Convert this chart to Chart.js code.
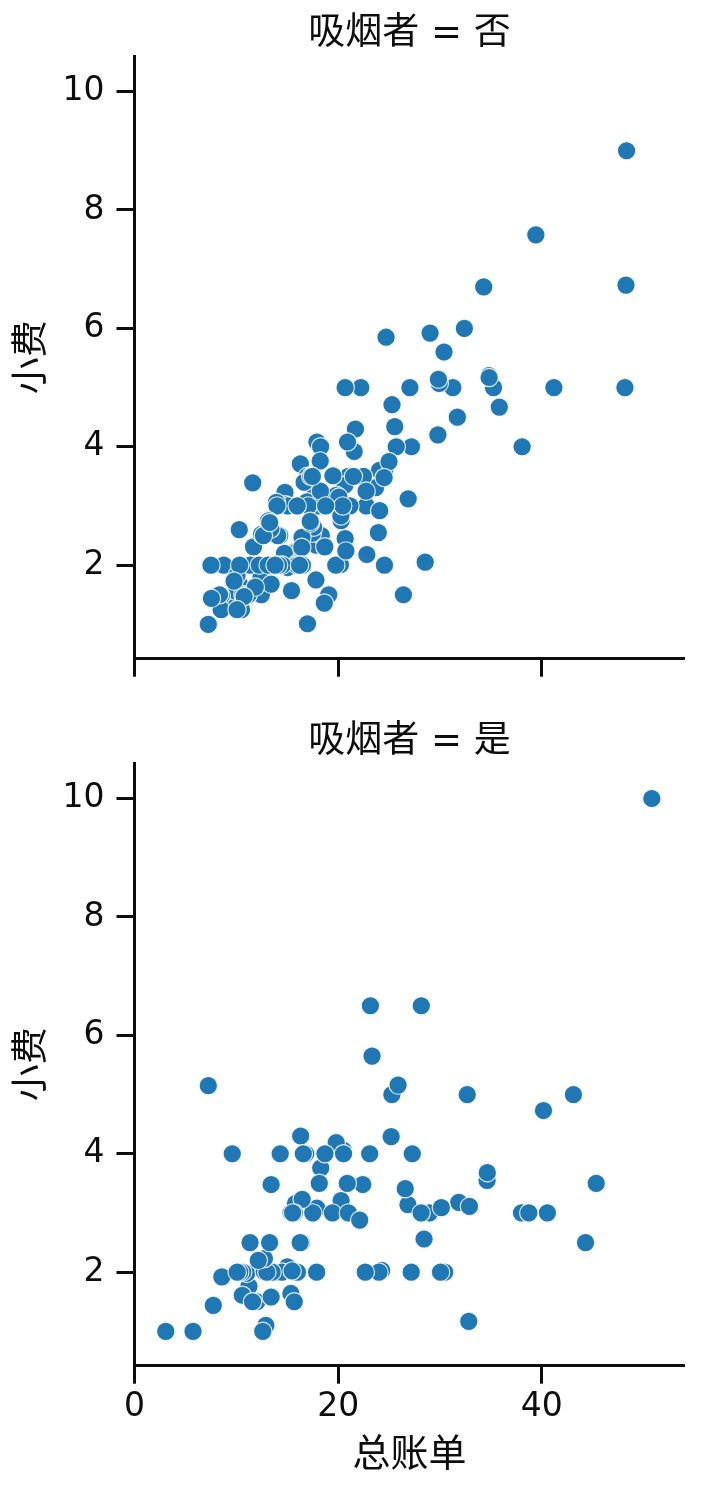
<!DOCTYPE html>
<html>
<head>
<meta charset="utf-8">
<script src="https://cdn.jsdelivr.net/npm/chart.js@4.4.1/dist/chart.umd.min.js"></script>
<style>
  html, body { margin: 0; padding: 0; background: #fff; }
  canvas { position: absolute; left: 0; }
  #noChart { top: 0; }
  #yesChart { top: 700px; }
</style>
</head>
<body>
<canvas id="noChart" width="717" height="700"></canvas>
<canvas id="yesChart" width="717" height="788"></canvas>
<script>
// 吸烟者 = 否
const noBill = [16.99, 10.34, 21.01, 23.68, 24.59, 25.29, 8.77, 26.88, 15.04, 14.78, 10.27, 35.26, 15.42, 18.43, 14.83, 21.58, 10.33, 16.29, 16.97, 20.65, 17.92, 20.29, 15.77, 39.42, 19.82, 17.81, 13.37, 12.69, 21.7, 19.65, 9.55, 18.35, 15.06, 20.69, 17.78, 24.06, 16.31, 16.93, 18.69, 31.27, 16.04, 17.46, 13.94, 9.68, 30.4, 18.29, 22.23, 32.4, 28.55, 18.04, 12.54, 10.29, 34.81, 9.94, 25.56, 19.49, 26.41, 48.27, 17.59, 20.08, 16.45, 20.23, 12.02, 17.07, 14.73, 10.51, 27.2, 22.76, 17.29, 16.66, 10.07, 15.98, 34.83, 13.03, 18.28, 24.71, 21.16, 22.49, 22.75, 12.46, 20.92, 18.24, 14.0, 7.25, 38.07, 23.95, 25.71, 17.31, 29.93, 10.65, 12.43, 24.08, 11.69, 13.42, 14.26, 15.95, 12.48, 29.8, 8.52, 14.52, 11.38, 22.82, 19.08, 20.27, 11.17, 12.26, 18.26, 8.51, 10.33, 14.15, 13.16, 17.47, 34.3, 41.19, 27.05, 16.43, 8.35, 18.64, 11.87, 9.78, 7.51, 14.07, 13.13, 17.26, 24.55, 19.77, 29.85, 48.17, 25.0, 13.39, 16.49, 21.5, 12.66, 16.21, 13.81, 24.52, 20.76, 31.71, 20.69, 7.56, 48.33, 15.98, 20.45, 13.28, 11.61, 10.77, 10.07, 35.83, 29.03, 17.82, 18.78];
const noTip = [1.01, 1.66, 3.5, 3.31, 3.61, 4.71, 2.0, 3.12, 1.96, 3.23, 1.71, 5.0, 1.57, 3.0, 3.02, 3.92, 1.67, 3.71, 3.5, 3.35, 4.08, 2.75, 2.23, 7.58, 3.18, 2.34, 2.0, 2.0, 4.3, 3.0, 1.45, 2.5, 3.0, 2.45, 3.27, 3.6, 2.0, 3.07, 2.31, 5.0, 2.24, 2.54, 3.06, 1.32, 5.6, 3.0, 5.0, 6.0, 2.05, 3.0, 2.5, 2.6, 5.2, 1.56, 4.34, 3.51, 1.5, 6.73, 2.64, 3.15, 2.47, 2.01, 1.97, 3.0, 2.2, 1.25, 4.0, 3.0, 2.71, 3.4, 1.83, 2.03, 5.17, 2.0, 4.0, 5.85, 3.0, 3.5, 3.25, 1.5, 4.08, 3.76, 3.0, 1.0, 4.0, 2.55, 4.0, 3.5, 5.07, 1.5, 1.8, 2.92, 2.31, 1.68, 2.5, 2.0, 2.52, 4.2, 1.48, 2.0, 2.0, 2.18, 1.5, 2.83, 1.5, 2.0, 3.25, 1.25, 2.0, 2.0, 2.75, 3.5, 6.7, 5.0, 5.0, 2.3, 1.5, 1.36, 1.63, 1.73, 2.0, 2.5, 2.0, 2.74, 2.0, 2.0, 5.14, 5.0, 3.75, 2.61, 2.0, 3.5, 2.5, 2.0, 2.0, 3.48, 2.24, 4.5, 5.0, 1.44, 9.0, 3.0, 3.0, 2.72, 3.39, 1.47, 1.25, 4.67, 5.92, 1.75, 3.0];

// 吸烟者 = 是
const yesBill = [38.01, 11.24, 20.29, 13.81, 11.02, 18.29, 3.07, 15.01, 26.86, 25.28, 17.92, 19.44, 32.68, 28.97, 5.75, 16.32, 40.17, 27.28, 12.03, 21.01, 11.35, 15.38, 44.3, 22.42, 15.36, 20.49, 25.21, 14.31, 16.0, 17.51, 10.59, 10.63, 50.81, 15.81, 7.25, 31.85, 16.82, 32.9, 17.89, 14.48, 9.6, 34.63, 34.65, 23.33, 45.35, 23.17, 40.55, 20.9, 30.46, 18.15, 23.1, 15.69, 19.81, 28.44, 15.48, 16.58, 10.34, 43.11, 13.0, 13.51, 18.71, 12.74, 13.0, 16.4, 20.53, 16.47, 26.59, 38.73, 24.27, 12.76, 30.06, 25.89, 13.27, 28.17, 12.9, 28.15, 11.59, 7.74, 30.14, 12.16, 13.42, 8.58, 13.42, 16.27, 10.09, 22.12, 24.01, 15.69, 15.53, 12.6, 32.83, 27.18, 22.67];
const yesTip = [3.0, 1.76, 3.21, 2.0, 1.98, 3.76, 1.0, 2.09, 3.14, 5.0, 3.08, 3.0, 5.0, 3.0, 1.0, 4.3, 4.73, 4.0, 1.5, 3.0, 2.5, 3.0, 2.5, 3.48, 1.64, 4.06, 4.29, 4.0, 2.0, 3.0, 1.61, 2.0, 10.0, 3.16, 5.15, 3.18, 4.0, 3.11, 2.0, 2.0, 4.0, 3.55, 3.68, 5.65, 3.5, 6.5, 3.0, 3.5, 2.0, 3.5, 4.0, 1.5, 4.19, 2.56, 2.02, 4.0, 2.0, 5.0, 2.0, 2.0, 4.0, 2.01, 2.0, 2.5, 4.0, 3.23, 3.41, 3.0, 2.03, 2.23, 2.0, 5.16, 2.5, 6.5, 1.1, 3.0, 1.5, 1.44, 3.09, 2.2, 3.48, 1.92, 1.58, 2.5, 2.0, 2.88, 2.0, 3.0, 3.0, 1.0, 1.17, 2.0, 2.0];

const xTicks = [0, 20, 40];
const yTicks = [2, 4, 6, 8, 10];
const xRange = [0, 54];
const yRange = [0.42, 10.6];

// latin glyphs (spaces, "=") from DejaVu, CJK glyphs fall through to Noto
const CJK = '"DejaVu Sans", "Noto Sans CJK SC", sans-serif';
const INK = '#0d0d0d';

function makePanel(canvasId, titleText, bills, tips, lay) {
  const points = bills.map((b, i) => ({ x: b, y: tips[i] }));

  return new Chart(document.getElementById(canvasId), {
    type: 'scatter',
    data: {
      datasets: [{
        data: points,
        backgroundColor: '#1f77b4',
        borderColor: 'rgba(255,255,255,0.85)',
        borderWidth: 1.2,
        pointRadius: 9.2,
        pointHoverRadius: 9.2
      }]
    },
    options: {
      responsive: false,
      animation: false,
      events: [],
      layout: { padding: { left: 0, right: 32.7, top: 0, bottom: 0 } },
      plugins: {
        legend: { display: false },
        tooltip: { enabled: false },
        title: {
          display: true,
          text: titleText,
          fullSize: false,
          color: INK,
          font: { family: CJK, size: 37, weight: 'normal', lineHeight: 1 },
          padding: { top: lay.titleTop, bottom: lay.titleBottom }
        }
      },
      scales: {
        x: {
          type: 'linear',
          min: xRange[0],
          max: xRange[1],
          afterBuildTicks: (s) => { s.ticks = xTicks.map((v) => ({ value: v })); },
          afterFit: (s) => { s.height = lay.xHeight; },
          border: { display: true, color: INK, width: 3 },
          grid: { drawOnChartArea: false, drawTicks: true, tickLength: 18, tickWidth: 3, tickColor: INK },
          ticks: {
            display: lay.showX,
            color: INK,
            font: { family: 'DejaVu Sans', size: 33 },
            padding: 4
          },
          title: {
            display: lay.showX,
            text: '总账单',
            color: INK,
            font: { family: CJK, size: 38 },
            padding: { top: 0, bottom: 8.7 }
          }
        },
        y: {
          type: 'linear',
          min: yRange[0],
          max: yRange[1],
          afterBuildTicks: (s) => { s.ticks = yTicks.map((v) => ({ value: v })); },
          afterFit: (s) => { s.width = 134.5; },
          border: { display: true, color: INK, width: 3 },
          grid: { drawOnChartArea: false, drawTicks: true, tickLength: 18, tickWidth: 3, tickColor: INK },
          ticks: {
            color: INK,
            font: { family: 'DejaVu Sans', size: 33 },
            padding: 12
          },
          title: {
            display: true,
            text: '小费',
            color: INK,
            font: { family: CJK, size: 37 },
            padding: { top: 11, bottom: 0 }
          }
        }
      }
    }
  });
}

makePanel('noChart', '吸烟者 = 否', noBill, noTip, {
  titleTop: 16, titleBottom: 3, xHeight: 41.3, showX: false
});
makePanel('yesChart', '吸烟者 = 是', yesBill, yesTip, {
  titleTop: 23.9, titleBottom: 2.1, xHeight: 122.3, showX: true
});
</script>
</body>
</html>
